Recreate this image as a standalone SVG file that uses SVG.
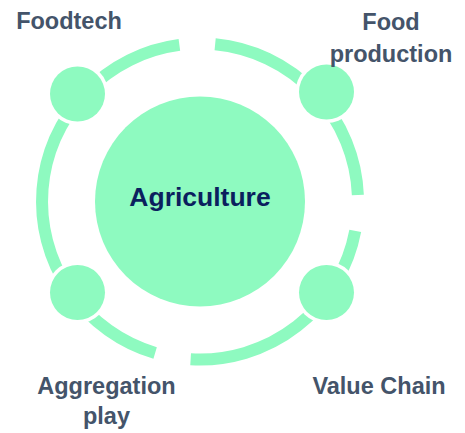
<svg xmlns="http://www.w3.org/2000/svg" width="465" height="433" viewBox="0 0 465 433">
<style>
.ring{fill:none;stroke:#8EFAC0;stroke-width:12;stroke-linecap:butt}
.dot{fill:#8EFAC0}
.halo{fill:#FFFFFF}
.lbl{font-family:"Liberation Sans",Arial,sans-serif;font-weight:bold;font-size:23.5px;fill:#44546A;text-anchor:middle}
.main{font-family:"Liberation Sans",Arial,sans-serif;font-weight:bold;font-size:26.5px;fill:#0B1F5E;text-anchor:middle}
</style>
<rect width="465" height="433" fill="#FFFFFF"/>
<g id="connectors">
<path class="ring" d="M355.25,230.84 A158,158 0 0 1 190.63,359.22"/>
<path class="ring" d="M155.13,352.99 A158,158 0 0 1 179.38,44.86"/>
<path class="ring" d="M215.14,44.23 A158,158 0 0 1 357.86,194.88"/>
</g>
<g id="agriculture">
<circle class="dot" cx="200" cy="201.5" r="105"/>
<text class="main" x="200" y="206">Agriculture</text>
</g>
<g id="foodtech">
<circle class="halo" cx="77.5" cy="94" r="31"/>
<circle class="dot" cx="77.5" cy="94" r="27.5"/>
<text class="lbl" x="69" y="29">Foodtech</text>
</g>
<g id="food-production">
<circle class="halo" cx="326.5" cy="92" r="31"/>
<circle class="dot" cx="326.5" cy="92" r="27.5"/>
<text class="lbl" x="391" y="30">Food</text>
<text class="lbl" x="391" y="62">production</text>
</g>
<g id="aggregation-play">
<circle class="halo" cx="77.5" cy="292.5" r="31"/>
<circle class="dot" cx="77.5" cy="292.5" r="27.5"/>
<text class="lbl" x="106.5" y="394">Aggregation</text>
<text class="lbl" x="106.5" y="424">play</text>
</g>
<g id="value-chain">
<circle class="halo" cx="326.5" cy="292.5" r="31"/>
<circle class="dot" cx="326.5" cy="292.5" r="27.5"/>
<text class="lbl" x="379" y="394">Value Chain</text>
</g>
</svg>
